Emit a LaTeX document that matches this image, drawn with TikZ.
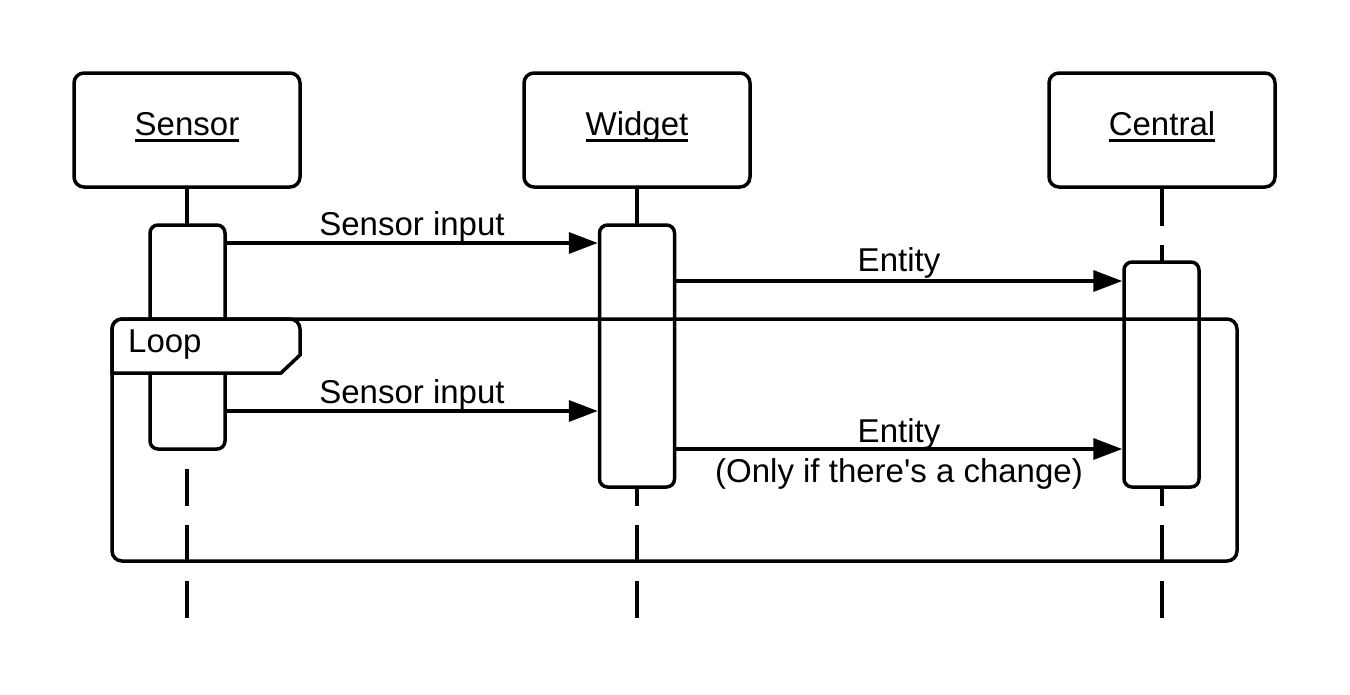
\documentclass[tikz,border=0pt]{standalone}
\usepackage{fontspec}
\setmainfont{Liberation Sans}[Ligatures=TeXOff]
\usetikzlibrary{arrows.meta}
\newcommand\ulbox[1]{\setbox0\hbox{#1}\rlap{\rule[-7pt]{\wd0}{3pt}}\box0}
\tikzset{
  obj/.style={draw, line width=3.5pt, rounded corners=10pt, fill=white, minimum width=226pt, minimum height=114pt, inner sep=0pt},
  act/.style={draw, line width=3.5pt, rounded corners=8pt, fill=white, minimum width=75pt, inner sep=0pt},
  lifeline/.style={line width=3.5pt, dash pattern=on 37pt off 19pt},
  msg/.style={line width=3.5pt, -{Triangle[length=29pt,width=21pt]}},
  lbl/.style={anchor=base, inner sep=0pt, font=\fontsize{33}{40}\selectfont},
  frame/.style={draw, line width=3.5pt, rounded corners=10pt},
}
\begin{document}
\begin{tikzpicture}[x=1pt,y=-1pt]
\useasboundingbox (0,0) rectangle (1350,694);
% objects
\node[obj] (sensor) at (187,130) {};
\node[obj] (widget) at (637,130) {};
\node[obj] (central) at (1162,130) {};
\node[lbl] (sensorT) at (187,135) {\ulbox{Sensor}};
\node[lbl] (widgetT) at (637,135) {\ulbox{Widget}};
\node[lbl] (centralT) at (1162,135) {\ulbox{Central}};
% lifeline ends
\coordinate (sEnd) at (187,618);
\coordinate (wEnd) at (637,618);
\coordinate (cEnd) at (1162,618);
\draw[lifeline] (sensor.south) -- (sEnd);
\draw[lifeline] (widget.south) -- (wEnd);
\draw[lifeline] (central.south) -- (cEnd);
% activations
\node[act, minimum height=224pt] (sact) at (187.5,337) {};
\node[act, minimum height=262pt] (wact) at (637,356) {};
\node[act, minimum height=225pt] (cact) at (1161.5,374.5) {};
% message rows
\coordinate (m1) at (0,243);
\coordinate (m2) at (0,281);
\coordinate (m3) at (0,411);
\coordinate (m4) at (0,449);
\draw[msg] (sact.east |- m1) -- (wact.west |- m1);
\draw[msg] (wact.east |- m2) -- (cact.west |- m2);
\draw[msg] (sact.east |- m3) -- (wact.west |- m3);
\draw[msg] (wact.east |- m4) -- (cact.west |- m4);
\node[lbl] (l1) at (412,235) {Sensor input};
\node[lbl] (l2) at (899,271) {Entity};
\node[lbl] (l3) at (412,403) {Sensor input};
\node[lbl] (l4) at (899,442) {Entity};
\node[lbl] (l5) at (899,482) {(Only if there's a change)};
% loop frame
\coordinate (fTL) at (112,319);
\coordinate (fBR) at (1237,561);
\draw[frame] (fTL) rectangle (fBR);
\draw[line width=3.5pt, fill=white, rounded corners=10pt] (fTL) -- (300,319) [sharp corners] -- (300,355) -- (281,373) -- (112,373) [rounded corners=10pt] -- cycle;
\node[lbl, anchor=base west] (loopT) at (128,352) {Loop};
\end{tikzpicture}
\end{document}
